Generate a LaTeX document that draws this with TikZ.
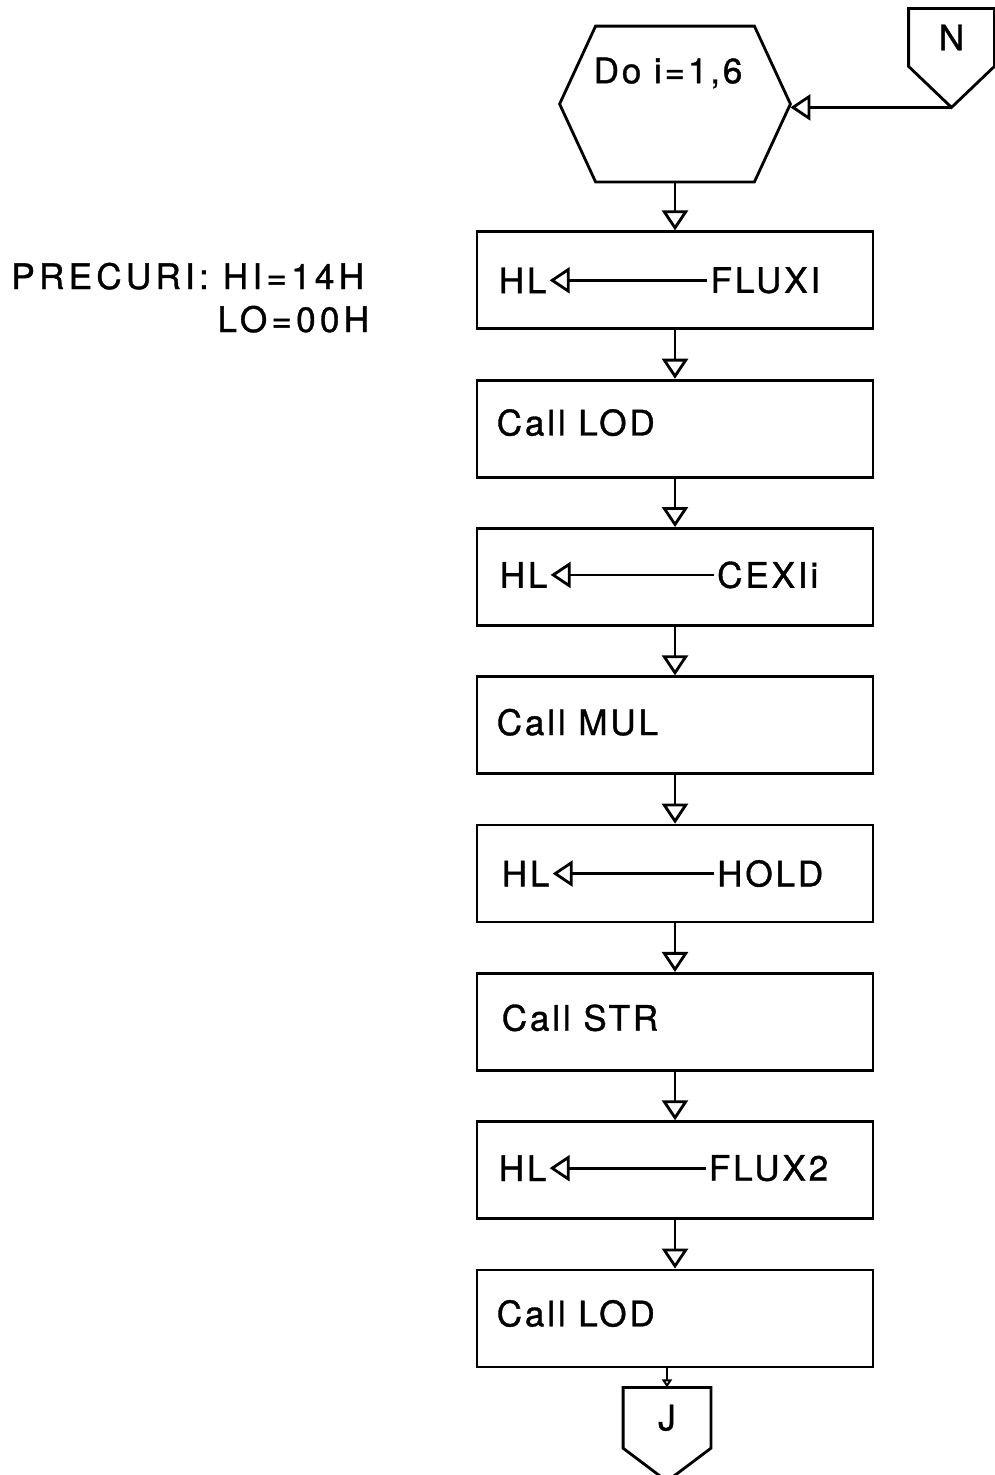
\documentclass[tikz,border=0pt]{standalone}
\usepackage{fontspec}
\newfontfamily\flowfont{TeX Gyre Heros}[LetterSpace=8,FakeBold=1]
\newfontfamily\notefont{TeX Gyre Heros}[LetterSpace=12,FakeBold=1]
\usetikzlibrary{arrows.meta,positioning,calc}

\begin{document}
\begin{tikzpicture}[
        node distance=0.97cm,
        line width=1.6pt,
        box/.style={
          draw,
          minimum width=7.92cm,
          minimum height=1.94cm,
          inner sep=0pt
        },
        lbl/.style={
          font=\flowfont\fontsize{20}{24}\selectfont,
          inner sep=1pt
        },
        note/.style={
          font=\notefont\fontsize{20}{24}\selectfont,
          inner sep=0pt
        },
        flow/.style={
          -{Triangle[open,length=0.4cm,width=0.52cm]}
        }
      ]
      \useasboundingbox (0,0) rectangle (19.9,-29.5);

      % loop header
      \node[minimum width=4.56cm, minimum height=3.06cm] (doloop) at (13.5,-2.08) {};
      \draw ($(doloop.north west)+(0.72,0)$) -- ($(doloop.north east)+(-0.72,0)$)
        -- (doloop.east) -- ($(doloop.south east)+(-0.72,0)$)
        -- ($(doloop.south west)+(0.72,0)$) -- (doloop.west) -- cycle;
      \node[lbl] (dotxt) at ($(doloop.center)+(-0.14,0.62)$) {Do i=1,6};

      % connector N
      \node[lbl, minimum width=1.66cm, minimum height=1.1cm] (conN) at (19.03,-0.75) {N};
      \coordinate (conNtip) at ($(conN.south)+(0,-0.82)$);
      \draw (conN.south west) -- (conN.north west) -- (conN.north east)
        -- (conN.south east) -- (conNtip) -- cycle;
      \draw[flow] (conNtip) -- (conNtip -| doloop.east);

      % note
      \node[note, anchor=base west] (precur) at (0.2,-5.78) {PRECURI: HI=14H};
      \node[note, anchor=base east] (lobyte) at ($(precur.base east)+(0.1,-0.86)$) {LO=00H};

      % boxes
      \node[box, below=of doloop] (ldflux1) {};
      \node[lbl, anchor=west] (hl1) at ($(ldflux1.west)+(0.4,0)$) {HL};
      \node[lbl, anchor=east] (flux1) at ($(ldflux1.east)+(-1.02,0)$) {FLUXI};
      \draw[flow] (flux1) -- (hl1);

      \node[box, below=of ldflux1] (lod1) {};
      \node[lbl, anchor=west] (lodtxt1) at ($(lod1.west)+(0.36,0.12)$) {Call LOD};

      \node[box, below=of lod1] (ldcex) {};
      \node[lbl, anchor=west] (hl2) at ($(ldcex.west)+(0.42,0.04)$) {HL};
      \node[lbl, anchor=east] (cex) at ($(ldcex.east)+(-1.06,0.04)$) {CEXIi};
      \draw[flow] (cex) -- (hl2);

      \node[box, below=of ldcex] (mul) {};
      \node[lbl, anchor=west] (multxt) at ($(mul.west)+(0.36,0.06)$) {Call MUL};

      \node[box, below=of mul] (ldhold) {};
      \node[lbl, anchor=west] (hl3) at ($(ldhold.west)+(0.46,0)$) {HL};
      \node[lbl, anchor=east] (hold) at ($(ldhold.east)+(-0.96,0)$) {HOLD};
      \draw[flow] (hold) -- (hl3);

      \node[box, below=of ldhold] (str) {};
      \node[lbl, anchor=west] (strtxt) at ($(str.west)+(0.46,0.08)$) {Call STR};

      \node[box, below=of str] (ldflux2) {};
      \node[lbl, anchor=west] (hl4) at ($(ldflux2.west)+(0.4,0.04)$) {HL};
      \node[lbl, anchor=east] (flux2) at ($(ldflux2.east)+(-0.86,0.04)$) {FLUX2};
      \draw[flow] (flux2) -- (hl4);

      \node[box, below=of ldflux2] (lod2) {};
      \node[lbl, anchor=west] (lodtxt2) at ($(lod2.west)+(0.36,0.1)$) {Call LOD};

      % connector J
      \node[lbl, minimum width=1.7cm, minimum height=1.16cm, below=0.38cm of lod2, xshift=-0.16cm] (conJ) {J};
      \coordinate (conJtip) at ($(conJ.south)+(0,-0.66)$);
      \draw (conJ.south west) -- (conJ.north west) -- (conJ.north east)
        -- (conJ.south east) -- (conJtip) -- cycle;

      \draw[flow] (doloop) -- (ldflux1);
      \draw[flow] (ldflux1) -- (lod1);
      \draw[flow] (lod1) -- (ldcex);
      \draw[flow] (ldcex) -- (mul);
      \draw[flow] (mul) -- (ldhold);
      \draw[flow] (ldhold) -- (str);
      \draw[flow] (str) -- (ldflux2);
      \draw[flow] (ldflux2) -- (lod2);
      \draw[-{Triangle[open,length=0.16cm,width=0.2cm]}] (lod2.south -| conJ.north) -- (conJ.north);

      \end{tikzpicture}
\end{document}
